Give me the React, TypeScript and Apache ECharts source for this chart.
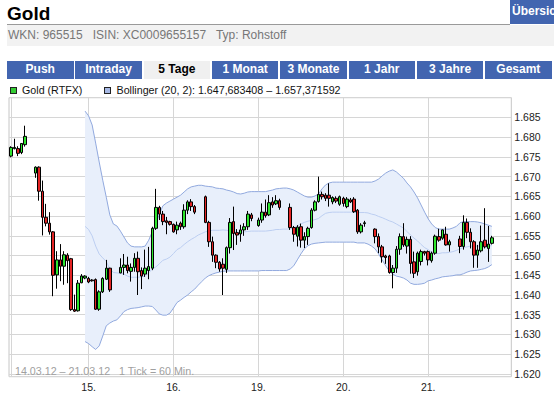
import React, { useEffect, useRef } from "react";
import * as echarts from "echarts";

// ---------- data ----------
const tradingDays = ["14.03.", "15.03.", "16.03.", "19.03.", "20.03.", "21.03."];
const firstHourOfFirstDay = 2; // hourly candles, 14.03. 02:00 … 21.03. 23:00

// [open, close, low, high] per hour, null = no trade
const candles: (number[] | null)[] = [
  [1675.2, 1677.4, 1674.9, 1677.7], // 0
  [1677.1, 1677.4, 1676.9, 1679.6],
  [1677.1, 1675.9, 1675.2, 1677.7],
  [1676.1, 1678.4, 1675.7, 1678.5],
  [1678.1, 1680.2, 1677.6, 1682.9],
  null,
  null,
  [1670.9, 1672.4, 1669.7, 1672.6],
  [1672.4, 1666.3, 1663.9, 1672.6],
  [1666.3, 1659.7, 1655.1, 1669.0],
  [1659.7, 1658.2, 1657.4, 1663.1], // 10
  [1658.2, 1656.0, 1655.3, 1661.0],
  [1656.0, 1645.0, 1639.7, 1656.2],
  [1645.1, 1648.9, 1641.6, 1651.1],
  [1648.9, 1647.3, 1643.5, 1652.9],
  [1647.3, 1650.2, 1642.6, 1651.1],
  [1650.1, 1648.7, 1643.0, 1650.6],
  [1649.2, 1636.3, 1636.0, 1649.4],
  [1636.3, 1635.9, 1635.7, 1640.1],
  [1636.0, 1643.0, 1635.8, 1643.8],
  [1643.1, 1644.8, 1643.0, 1645.3], // 20
  [1644.3, 1644.8, 1644.0, 1645.0],
  [1644.2, 1643.3, 1643.0, 1644.6],
  [1643.8, 1643.6, 1643.4, 1644.0],
  [1643.9, 1636.4, 1636.2, 1644.2],
  [1636.4, 1640.8, 1636.0, 1641.2],
  [1640.8, 1644.2, 1640.5, 1644.5],
  [1644.0, 1646.8, 1643.8, 1648.9],
  [1646.8, 1641.3, 1640.8, 1646.9],
  null,
  null, // 30
  [1645.6, 1647.0, 1645.5, 1649.3],
  [1647.0, 1647.6, 1645.1, 1650.4],
  [1647.6, 1646.2, 1645.5, 1649.7],
  [1646.0, 1647.0, 1643.4, 1648.0],
  [1647.0, 1649.3, 1645.9, 1650.6],
  [1649.3, 1645.9, 1640.0, 1651.0],
  [1646.2, 1644.8, 1641.5, 1647.0],
  [1645.3, 1646.8, 1644.6, 1651.5],
  [1646.2, 1647.2, 1644.0, 1652.2],
  [1646.8, 1656.9, 1646.3, 1657.3], // 40
  [1656.9, 1662.2, 1656.5, 1666.9],
  [1662.2, 1660.5, 1659.0, 1662.6],
  [1660.5, 1658.6, 1657.7, 1661.3],
  [1658.8, 1658.4, 1655.4, 1659.8],
  [1658.6, 1657.9, 1657.6, 1658.8],
  [1657.9, 1656.0, 1655.8, 1658.1],
  [1656.5, 1657.7, 1655.4, 1658.6],
  [1658.2, 1657.3, 1656.5, 1658.6],
  [1657.3, 1661.5, 1656.8, 1663.0],
  [1661.5, 1663.6, 1660.5, 1664.0], // 50
  [1663.6, 1662.4, 1661.3, 1664.3],
  [1662.4, 1661.0, 1660.5, 1662.8],
  null,
  null,
  [1664.9, 1658.4, 1658.2, 1665.2],
  [1658.4, 1653.5, 1652.2, 1658.8],
  [1653.5, 1650.1, 1648.4, 1654.8],
  [1650.1, 1648.3, 1646.8, 1650.3],
  [1648.3, 1646.6, 1645.9, 1648.6],
  [1647.8, 1646.8, 1640.0, 1649.3], // 60
  [1646.5, 1652.0, 1645.6, 1652.3],
  [1652.0, 1658.4, 1650.5, 1659.5],
  [1658.6, 1655.6, 1651.4, 1662.4],
  [1655.8, 1655.2, 1652.7, 1656.7],
  [1655.5, 1656.5, 1653.5, 1657.8],
  [1656.5, 1657.3, 1655.0, 1658.2],
  [1657.3, 1660.5, 1656.5, 1661.3],
  [1660.3, 1659.4, 1658.7, 1660.8],
  null,
  [1657.6, 1659.0, 1657.3, 1659.6], // 70
  [1659.0, 1661.0, 1658.3, 1663.2],
  [1661.0, 1660.1, 1659.6, 1664.2],
  [1660.3, 1663.4, 1660.0, 1665.3],
  [1663.6, 1662.8, 1662.1, 1664.8],
  [1663.1, 1663.9, 1662.8, 1665.3],
  [1663.9, 1662.2, 1661.6, 1664.4],
  null,
  null,
  [1662.2, 1657.1, 1656.5, 1663.2],
  [1657.1, 1655.4, 1653.5, 1657.5], // 80
  [1654.9, 1657.2, 1652.3, 1657.7],
  [1657.3, 1653.9, 1652.0, 1658.1],
  [1653.9, 1654.8, 1651.9, 1655.9],
  [1654.8, 1656.9, 1652.7, 1657.3],
  [1657.1, 1661.5, 1656.8, 1662.0],
  [1661.5, 1663.6, 1661.2, 1664.0],
  [1663.7, 1665.5, 1663.4, 1670.0],
  [1665.5, 1664.9, 1664.2, 1666.2],
  [1665.3, 1664.5, 1663.8, 1665.8],
  [1665.3, 1664.5, 1662.4, 1668.3], // 90
  [1663.6, 1664.7, 1663.0, 1665.0],
  [1664.5, 1663.8, 1663.3, 1665.0],
  [1663.0, 1664.9, 1662.6, 1665.2],
  [1664.5, 1663.2, 1662.4, 1664.9],
  [1662.4, 1664.3, 1662.0, 1664.8],
  [1664.1, 1663.6, 1663.3, 1664.6],
  [1664.3, 1661.1, 1660.8, 1664.8],
  [1661.5, 1656.0, 1655.5, 1661.8],
  [1656.0, 1657.7, 1655.6, 1658.2],
  [1658.1, 1658.3, 1657.3, 1658.8], // 100
  null,
  null,
  [1656.7, 1654.8, 1653.1, 1656.9],
  [1654.8, 1652.2, 1650.6, 1655.6],
  [1652.2, 1649.7, 1648.2, 1652.7],
  [1649.9, 1649.5, 1647.9, 1650.2],
  [1649.9, 1645.7, 1645.4, 1650.2],
  [1645.7, 1646.8, 1641.7, 1647.6],
  [1646.8, 1651.6, 1645.6, 1652.4],
  [1651.6, 1654.8, 1650.2, 1655.6], // 110
  [1654.8, 1652.7, 1652.2, 1658.2],
  [1652.4, 1654.1, 1650.5, 1654.8],
  [1654.1, 1648.0, 1645.4, 1654.9],
  [1648.4, 1645.5, 1644.3, 1651.0],
  [1645.9, 1650.6, 1644.9, 1651.0],
  [1648.5, 1651.0, 1647.5, 1651.5],
  [1651.0, 1650.6, 1650.0, 1651.2],
  [1651.0, 1648.9, 1647.5, 1651.3],
  [1648.7, 1650.6, 1648.2, 1651.0],
  [1650.6, 1654.9, 1650.2, 1655.3], // 120
  [1654.8, 1653.9, 1653.5, 1656.8],
  [1654.4, 1656.5, 1654.0, 1656.6],
  [1655.4, 1652.7, 1652.5, 1657.3],
  [1652.7, 1653.5, 1651.0, 1654.0],
  null,
  null,
  [1654.2, 1652.3, 1650.6, 1655.0],
  [1652.3, 1658.4, 1651.5, 1660.2],
  [1658.4, 1655.9, 1654.4, 1659.4],
  [1655.9, 1653.5, 1651.8, 1656.9], // 130
  [1653.5, 1650.1, 1646.9, 1653.9],
  [1650.1, 1651.4, 1646.9, 1652.7],
  [1651.2, 1653.5, 1650.8, 1657.6],
  [1653.9, 1652.2, 1651.8, 1662.0],
  [1651.8, 1652.9, 1648.4, 1657.5],
  [1653.1, 1654.5, 1652.8, 1655.0],
  null,
  null,
  null,
  null, // 140
  null,
];

// Bollinger (20, 2) bands, first value belongs to hour index 21
const bollStart = 21;
const bollUpper = [
  1686.6, 1685.4, 1683.1, 1678.5, 1673.7, 1669.1, 1664.8, 1660.3, 1658.0, 1657.5,
  1656.2, 1654.7, 1653.2, 1652.4, 1652.2, 1652.2, 1652.2, 1652.4, 1653.9, 1656.0,
  1658.0, 1660.5, 1662.6, 1663.3, 1663.8, 1664.3, 1664.8, 1665.3, 1666.1, 1666.9,
  1667.4, 1667.6, 1667.8, 1667.8, 1667.6, 1667.5, 1667.4, 1667.1, 1667.0, 1666.9,
  1666.6, 1666.4, 1666.1, 1665.7, 1665.6, 1665.8, 1666.1, 1666.2, 1666.2, 1666.2,
  1666.2, 1666.2, 1666.4, 1666.6, 1666.9, 1667.0, 1667.1, 1667.1, 1666.9, 1666.6,
  1666.1, 1665.6, 1665.1, 1664.8, 1664.8, 1665.1, 1665.6, 1666.9, 1667.9, 1668.4,
  1668.6, 1668.6, 1668.6, 1668.6, 1668.6, 1668.6, 1668.6, 1668.6, 1668.6, 1668.6, 1668.6, 1668.6,
  1668.9, 1669.4, 1670.2, 1670.9, 1671.4, 1671.7, 1671.2, 1670.4, 1669.6, 1668.4,
  1667.4, 1666.1, 1664.6, 1662.8, 1661.0, 1659.3, 1658.0, 1657.1, 1656.7, 1656.7,
  1656.7, 1656.7, 1657.0, 1657.4, 1658.3, 1658.6, 1658.6, 1658.6, 1658.6, 1658.5,
  1658.3, 1658.0, 1657.7, 1657.4,
];
const bollMiddle = [
  1657.4, 1656.6, 1655.0, 1652.4, 1650.4, 1649.4, 1648.5, 1646.6, 1645.7, 1645.6,
  1645.5, 1645.3, 1644.8, 1644.5, 1644.5, 1644.5, 1644.6, 1644.8, 1645.6, 1646.6,
  1647.1, 1647.9, 1648.8, 1649.1, 1649.6, 1650.5, 1651.5, 1652.0, 1652.8, 1653.5,
  1654.1, 1654.6, 1655.2, 1655.6, 1656.0, 1656.2, 1656.4, 1656.4, 1656.4, 1656.5,
  1656.4, 1656.3, 1656.1, 1655.9, 1655.9, 1656.0, 1656.1, 1656.2, 1656.2, 1656.2,
  1656.2, 1656.2, 1656.3, 1656.4, 1656.6, 1656.6, 1656.7, 1656.7, 1656.8, 1657.0,
  1657.5, 1658.0, 1658.4, 1658.7, 1658.9, 1659.1, 1659.4, 1660.1, 1660.7, 1660.9,
  1661.0, 1661.0, 1661.0, 1661.0, 1661.0, 1661.0, 1661.0,
  1660.9, 1660.9, 1660.9, 1660.8, 1660.5, 1660.3, 1659.9, 1659.6, 1659.2, 1658.8,
  1658.5, 1658.0, 1657.5, 1657.0, 1656.1, 1655.2, 1654.4, 1653.7, 1652.8, 1652.0,
  1651.5, 1650.9, 1650.6, 1650.5, 1650.7, 1650.7, 1650.8, 1651.0, 1651.3, 1651.7,
  1652.0, 1652.2, 1652.4, 1652.4, 1652.4, 1652.4, 1652.4, 1652.4, 1652.5,
];
const bollLower = [
  1628.2, 1627.7, 1626.9, 1626.2, 1627.1, 1629.6, 1632.2, 1632.9, 1633.4, 1633.7,
  1634.7, 1635.8, 1636.3, 1636.6, 1636.7, 1636.8, 1637.0, 1637.2, 1637.2, 1637.1,
  1636.2, 1635.2, 1634.9, 1634.9, 1635.4, 1636.7, 1638.1, 1638.7, 1639.4, 1640.0,
  1640.8, 1641.5, 1642.5, 1643.4, 1644.3, 1644.9, 1645.3, 1645.6, 1645.8, 1646.0,
  1646.1, 1646.1, 1646.1, 1646.1, 1646.1, 1646.1, 1646.1, 1646.1, 1646.1, 1646.1,
  1646.2, 1646.2, 1646.2, 1646.2, 1646.2, 1646.2, 1646.2, 1646.2,
  1646.6, 1647.4, 1648.9, 1650.4, 1651.7, 1652.5, 1652.9, 1653.1, 1653.2, 1653.3,
  1653.4, 1653.4, 1653.4, 1653.4, 1653.4, 1653.4, 1653.4, 1653.4, 1653.4,
  1653.2, 1653.2, 1653.2, 1652.9, 1652.4, 1651.7, 1650.4, 1648.9, 1647.4, 1646.1,
  1645.3, 1644.8, 1644.6, 1644.3, 1643.8, 1643.0, 1642.7, 1642.7, 1642.8, 1643.0,
  1643.6, 1643.8, 1644.1, 1644.3, 1644.6, 1644.7, 1644.8, 1644.9, 1645.1, 1645.1,
  1645.4, 1645.8, 1646.1, 1646.2, 1646.3, 1646.5, 1646.7, 1647.1, 1647.7,
];

const yMin = 1619.3;
const yMax = 1690;

const tabs = ["Push", "Intraday", "5 Tage", "1 Monat", "3 Monate", "1 Jahr", "3 Jahre", "Gesamt"];
const activeTab = "5 Tage";
const infoLine = "WKN: 965515   ISIN: XC0009655157   Typ: Rohstoff";
const legendGold = "Gold (RTFX)";
const legendBoll = "Bollinger (20, 2): 1.647,683408 – 1.657,371592";
const footNote = "14.03.12 – 21.03.12   1 Tick = 60 Min.";

const FONT = '"Liberation Sans", Arial, Helvetica, sans-serif';
const BLUE = "#4265b0";

const fmtDe = (v: number) => {
  const s = Math.round(v).toString();
  return s.length > 3 ? s.slice(0, s.length - 3) + "." + s.slice(-3) : s;
};

export default function App() {
  const ref = useRef<HTMLDivElement>(null);

  useEffect(() => {
    if (!ref.current) return;
    const chart = echarts.init(ref.current, null, { renderer: "svg" });

    const categories: string[] = [];
    tradingDays.forEach((d, i) => {
      for (let h = i === 0 ? firstHourOfFirstDay : 0; h < 24; h++) {
        categories.push(d + " " + String(h).padStart(2, "0") + ":00");
      }
    });
    const pad = (arr: number[]) =>
      categories.map((_, i) => {
        const j = i - bollStart;
        return j >= 0 && j < arr.length ? arr[j] : null;
      });
    const up = pad(bollUpper);
    const mid = pad(bollMiddle);
    const lo = pad(bollLower);
    const spread = up.map((u, i) =>
      u == null || lo[i] == null ? null : +(u - (lo[i] as number)).toFixed(2)
    );
    const isDayStart = (v: string) => v.endsWith(" 00:00");

    chart.setOption({
      animation: false,
      grid: {
        left: 9,
        right: 42.7,
        top: 97.7,
        bottom: 20.3,
        show: true,
        borderColor: "#c6c6c6",
        borderWidth: 1,
        backgroundColor: "#ffffff",
      },
      xAxis: {
        type: "category",
        data: categories,
        boundaryGap: true,
        axisLine: { show: false },
        axisTick: { show: false },
        axisLabel: {
          interval: (_i: number, v: string) => isDayStart(v),
          formatter: (v: string) => v.slice(0, 3),
          color: "#222",
          fontSize: 10.5,
          fontFamily: FONT,
          margin: 5,
        },
        splitLine: {
          show: true,
          interval: (i: number, v: string) => i === 0 || isDayStart(v),
          alignWithLabel: true,
          lineStyle: { color: "#d6d6d6", width: 1 },
        },
      },
      yAxis: {
        type: "value",
        position: "right",
        min: yMin,
        max: yMax,
        splitNumber: 14,
        axisLine: { show: false },
        axisTick: { show: false },
        axisLabel: {
          formatter: (v: number) => fmtDe(v),
          showMinLabel: false,
          showMaxLabel: false,
          color: "#222",
          fontSize: 10.5,
          fontFamily: FONT,
          margin: 3,
        },
        splitLine: { show: true, lineStyle: { color: "#d6d6d6", width: 1 } },
      },
      series: [
        {
          type: "line",
          data: lo,
          stack: "band",
          symbol: "none",
          silent: true,
          z: 1,
          lineStyle: { opacity: 0 },
        },
        {
          type: "line",
          data: spread,
          stack: "band",
          symbol: "none",
          silent: true,
          z: 1,
          lineStyle: { opacity: 0 },
          areaStyle: { color: "#e8effb", opacity: 1 },
        },
        {
          type: "line",
          data: up,
          symbol: "none",
          silent: true,
          z: 2,
          lineStyle: { color: "#91a9de", width: 1 },
        },
        {
          type: "line",
          data: lo,
          symbol: "none",
          silent: true,
          z: 2,
          lineStyle: { color: "#91a9de", width: 1 },
        },
        {
          type: "line",
          data: mid,
          symbol: "none",
          silent: true,
          z: 2,
          lineStyle: { color: "#bccef1", width: 1 },
        },
        {
          type: "candlestick",
          data: candles.map((c) => (c ? c : "-")),
          barWidth: 3,
          z: 5,
          itemStyle: {
            color: "#2ee62e",
            color0: "#e42424",
            borderColor: "#000000",
            borderColor0: "#000000",
            borderWidth: 1,
          },
        },
      ],
      graphic: [
        {
          type: "text",
          left: 15,
          top: 365,
          z: 10,
          style: {
            text: footNote,
            fill: "#a0a0a0",
            fontSize: 10.7,
            fontFamily: FONT,
          },
        },
      ],
    });

    return () => chart.dispose();
  }, []);

  return (
    <div
      style={{
        position: "absolute",
        left: 0,
        top: 0,
        width: 554,
        height: 397,
        overflow: "hidden",
        background: "#fff",
        fontFamily: FONT,
      }}
    >
      <div ref={ref} style={{ position: "absolute", left: 0, top: 0, width: 554, height: 397 }} />

      <div
        style={{
          position: "absolute",
          left: 7,
          top: 2,
          fontSize: 19,
          fontWeight: "bold",
          lineHeight: "23px",
          color: "#000",
        }}
      >
        Gold
      </div>
      <div
        style={{
          position: "absolute",
          left: 510,
          top: 0,
          width: 44,
          height: 24,
          background: BLUE,
          color: "#fff",
          fontSize: 12,
          fontWeight: "bold",
          lineHeight: "22px",
          paddingLeft: 2,
          whiteSpace: "nowrap",
          overflow: "hidden",
          boxSizing: "border-box",
        }}
      >
        Übersicht
      </div>
      <div style={{ position: "absolute", left: 7, top: 24, width: 503, height: 1, background: "#9a9a9a" }} />
      <div
        style={{
          position: "absolute",
          left: 7,
          top: 25,
          width: 547,
          height: 21,
          background: "#f2f2f2",
          color: "#777",
          fontSize: 12,
          lineHeight: "21px",
          paddingLeft: 1,
          whiteSpace: "pre",
          boxSizing: "border-box",
        }}
      >
        {infoLine}
      </div>

      {tabs.map((t, i) => {
        const active = t === activeTab;
        return (
          <div
            key={t}
            style={{
              position: "absolute",
              left: 7 + i * 68.3,
              top: 61,
              width: 66.5,
              height: 17.5,
              background: active ? "#f0f0f0" : BLUE,
              color: active ? "#000" : "#fff",
              fontSize: 12,
              fontWeight: "bold",
              lineHeight: "17.5px",
              textAlign: "center",
              whiteSpace: "nowrap",
            }}
          >
            {t}
          </div>
        );
      })}

      <div
        style={{
          position: "absolute",
          left: 10,
          top: 86.5,
          width: 7,
          height: 7,
          background: "#33cc33",
          border: "1px solid #222",
          boxSizing: "border-box",
        }}
      />
      <div
        style={{
          position: "absolute",
          left: 22,
          top: 84,
          fontSize: 10.7,
          lineHeight: "12px",
          color: "#111",
          whiteSpace: "nowrap",
        }}
      >
        {legendGold}
      </div>
      <div
        style={{
          position: "absolute",
          left: 104,
          top: 86.5,
          width: 7,
          height: 7,
          background: "#a6b8e4",
          border: "1px solid #222",
          boxSizing: "border-box",
        }}
      />
      <div
        style={{
          position: "absolute",
          left: 116.5,
          top: 84,
          fontSize: 10.7,
          lineHeight: "12px",
          color: "#111",
          whiteSpace: "nowrap",
        }}
      >
        {legendBoll}
      </div>
    </div>
  );
}
